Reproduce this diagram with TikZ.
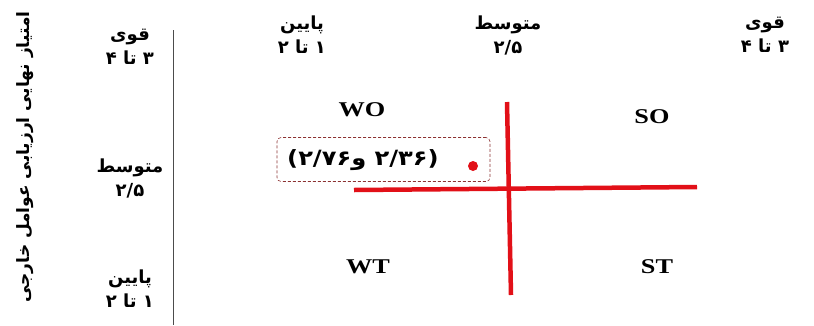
\documentclass[tikz,border=0pt]{standalone}
\usepackage{fontspec}
\setmainfont{Liberation Serif}
\newfontfamily\arabicfont[Script=Arabic]{DejaVu Sans}
\TeXXeTstate=1
\definecolor{crossred}{RGB}{226,16,24}
\definecolor{boxred}{RGB}{140,50,50}
\begin{document}
\begin{tikzpicture}[x=1pt,y=-1pt,
  fa/.style={font=\arabicfont\bfseries\fontsize{18}{24}\selectfont, inner sep=0pt, align=center},
  quad/.style={font=\bfseries\fontsize{21}{24}\selectfont, xscale=1.25, transform shape, inner sep=0pt},
  redline/.style={draw=crossred, line width=4.5pt},
  ]
\useasboundingbox (0,0) rectangle (814,325);
% left axis title
\node[fa, rotate=90, font=\arabicfont\bfseries\fontsize{17}{20}\selectfont] (ytitle) at (25,157) {\beginR امتیاز نهایی ارزیابی عوامل خارجی\endR};
% left labels
\node[fa] (lhigh) at (130,47) {\beginR قوی\endR\\\beginR ۳ تا ۴\endR};
\node[fa] (lmid) at (130,178) {\beginR متوسط\endR\\۲/۵};
\node[fa] (llow) at (130,289) {\beginR پایین\endR\\\beginR ۱ تا ۲\endR};
% axis line
\coordinate (at) at (173,30);
\coordinate (ab) at (173,325);
\draw[draw=black!70, line width=0.8pt] (at) -- (ab);
% top labels
\node[fa] (tlow) at (302,35) {\beginR پایین\endR\\\beginR ۱ تا ۲\endR};
\node[fa] (tmid) at (508,35) {\beginR متوسط\endR\\۲/۵};
\node[fa] (thigh) at (765,35) {\beginR قوی\endR\\\beginR ۳ تا ۴\endR};
% red cross
\coordinate (vt) at (507,102);
\coordinate (vb) at (511,295);
\coordinate (hl) at (354,190);
\coordinate (hr) at (697,187);
\draw[redline] (vt) -- (vb);
\draw[redline] (hl) -- (hr);
% quadrant labels
\node[quad] (wo) at (362,110) {WO};
\node[quad] (so) at (652,117) {SO};
\node[quad] (wt) at (368,267) {WT};
\node[quad] (st) at (657,267) {ST};
% point box
\node[draw=boxred, dash pattern=on 3pt off 2pt, rounded corners=4pt, line width=0.6pt, minimum width=213pt, minimum height=44pt] (pbox) at (383.5,159.5) {};
\node[fa, font=\arabicfont\bfseries\fontsize{21}{24}\selectfont, xscale=1.15, transform shape] (plabel) at (363,160) {\beginR(\beginL۲/۳۶\endL{} و\beginL۲/۷۶\endL)\endR};
\node[circle, fill=crossred, inner sep=0pt, minimum size=10pt] (pt) at (473,166) {};
\end{tikzpicture}
\end{document}
